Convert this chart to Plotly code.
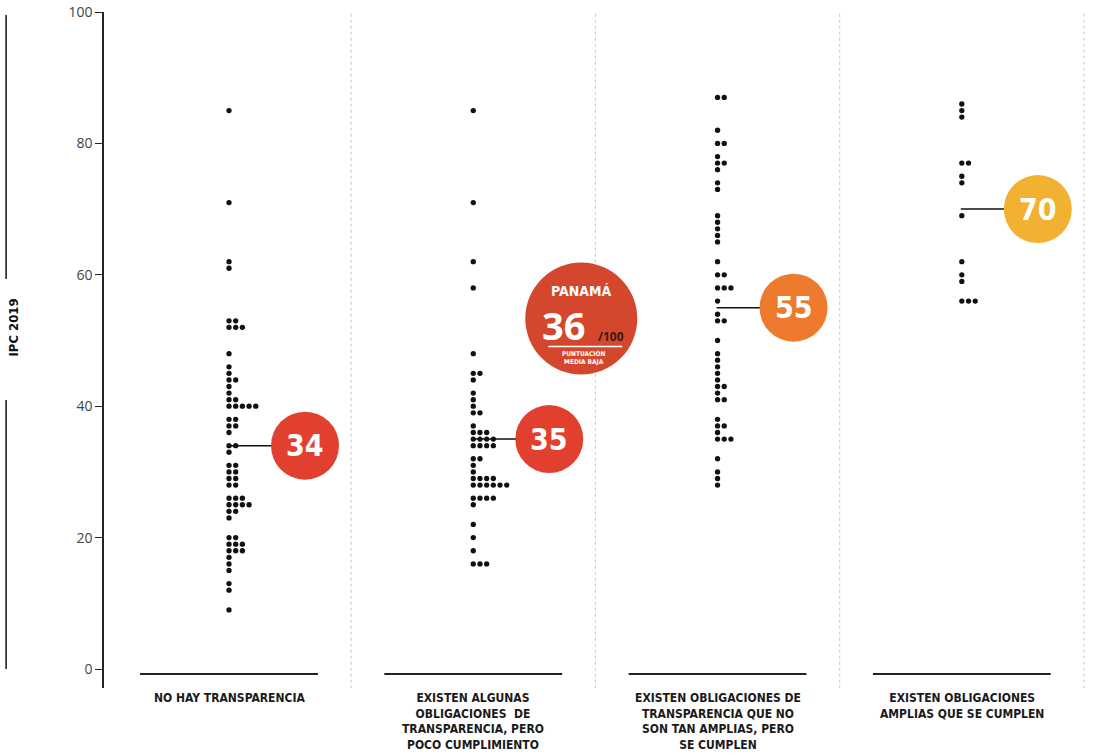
import plotly.graph_objects as go
from collections import Counter

# ---------------- data ----------------
categories = [
    "NO HAY TRANSPARENCIA",
    "EXISTEN ALGUNAS<br>OBLIGACIONES  DE<br>TRANSPARENCIA, PERO<br>POCO CUMPLIMIENTO",
    "EXISTEN OBLIGACIONES DE<br>TRANSPARENCIA QUE NO<br>SON TAN AMPLIAS, PERO<br>SE CUMPLEN",
    "EXISTEN OBLIGACIONES<br>AMPLIAS QUE SE CUMPLEN",
]

scores_no_transparencia = [
    85, 71, 62, 61, 53, 53, 52, 52, 52, 48, 46, 45, 44, 44, 43, 42, 41, 41,
    40, 40, 40, 40, 40, 38, 38, 37, 37, 36, 34, 34, 33, 31, 31, 30, 30, 29, 29,
    28, 28, 26, 26, 26, 25, 25, 25, 25, 24, 24, 23, 20, 20, 19, 19, 19, 18, 18,
    18, 17, 16, 15, 13, 12, 9,
]
scores_algunas = [
    85, 71, 62, 58, 48, 45, 45, 44, 42, 41, 40, 39, 39, 37, 36, 36, 36,
    35, 35, 35, 35, 34, 34, 34, 34, 32, 32, 31, 30, 29, 29, 29, 29,
    28, 28, 28, 28, 28, 28, 26, 26, 26, 26, 25, 22, 20, 18, 16, 16, 16,
]
scores_no_amplias = [
    87, 87, 82, 80, 80, 78, 77, 77, 76, 74, 73, 69, 68, 67, 66, 65, 62, 60, 60,
    58, 58, 58, 56, 54, 53, 53, 50, 48, 47, 46, 45, 44, 43, 43, 42, 41, 41, 38,
    37, 37, 36, 35, 35, 35, 32, 30, 29, 28,
]
scores_amplias = [86, 85, 84, 77, 77, 75, 74, 69, 62, 60, 59, 56, 56, 56]

series = [scores_no_transparencia, scores_algunas, scores_no_amplias, scores_amplias]
mean_labels = [34, 35, 55, 70]
mean_colors = ["#E2402E", "#E2402E", "#EE7A2E", "#F2B131"]

panama_label = "PANAMÁ"
panama_score = 36
panama_color = "#D4472C"

tick_values = [0, 20, 40, 60, 80, 100]
axis_title = "IPC 2019"

# ---------------- style ----------------
COND = "DejaVu Sans Condensed, Liberation Sans Narrow, Arial Narrow, sans-serif"
W, H = 1093, 754
ML, MR, MT, MB = 104, 0, 12, 66
X0, X1 = -0.5117, 3.537
Y0, Y1 = -2.89, 100
DX = 0.0274  # horizontal stacking step for equal scores

fig = go.Figure()

# dots, stacked horizontally when scores coincide
for i, vals in enumerate(series):
    xs, ys = [], []
    for s, n in sorted(Counter(vals).items()):
        for k in range(n):
            xs.append(i + k * DX)
            ys.append(s)
    fig.add_trace(go.Scatter(
        x=xs, y=ys, mode="markers",
        marker=dict(size=5.3, color="#111111", line=dict(width=0)),
        hoverinfo="y", showlegend=False, cliponaxis=False,
    ))

shapes = []
annotations = []

# vertical dotted separators
for i in range(len(categories)):
    shapes.append(dict(type="line", xref="x", yref="y", x0=i + 0.5, x1=i + 0.5,
                       y0=-3.0, y1=100.3,
                       line=dict(color="#c8c8c8", width=1, dash="dot"), layer="below"))

# baseline under each category + labels
for i, lab in enumerate(categories):
    shapes.append(dict(type="line", xref="x", yref="y", x0=i - 0.364, x1=i + 0.364,
                       y0=-0.75, y1=-0.75, line=dict(color="#222222", width=2)))
    annotations.append(dict(x=i, y=0, xref="x", yref="paper", yanchor="top",
                            xanchor="center", yshift=-1, showarrow=False, align="center",
                            text="<b>" + lab + "</b>",
                            font=dict(family=COND, size=12, color="#1a1a1a")))

# mean markers
for i, (m, c) in enumerate(zip(mean_labels, mean_colors)):
    shapes.append(dict(type="line", xref="x", yref="y", xsizemode="pixel",
                       ysizemode="pixel", xanchor=i, yanchor=m,
                       x0=-1, x1=44, y0=0, y1=0,
                       line=dict(color="#111111", width=1.5)))
    shapes.append(dict(type="circle", xref="x", yref="y", xsizemode="pixel",
                       ysizemode="pixel", xanchor=i, yanchor=m,
                       x0=76 - 34, x1=76 + 34, y0=-34, y1=34,
                       fillcolor=c, line=dict(width=0)))
    annotations.append(dict(x=i, y=m, xref="x", yref="y", xshift=76, yshift=0,
                            showarrow=False, text="<b>%d</b>" % m,
                            font=dict(family=COND, size=30, color="white")))

# Panamá callout (anchored to second category, score 36)
pa_x, pa_y = 1, panama_score
shapes.append(dict(type="circle", xref="x", yref="y", xsizemode="pixel",
                   ysizemode="pixel", xanchor=pa_x, yanchor=pa_y,
                   x0=108 - 56, x1=108 + 56, y0=114 - 56, y1=114 + 56,
                   fillcolor=panama_color, line=dict(width=0)))
shapes.append(dict(type="line", xref="x", yref="y", xsizemode="pixel",
                   ysizemode="pixel", xanchor=pa_x, yanchor=pa_y,
                   x0=75, x1=149, y0=86, y1=86,
                   line=dict(color="white", width=1.5)))
annotations += [
    dict(x=pa_x, y=pa_y, xref="x", yref="y", xshift=108, yshift=141, showarrow=False,
         text="<b>" + panama_label + "</b>", font=dict(family=COND, size=14, color="white")),
    dict(x=pa_x, y=pa_y, xref="x", yref="y", xshift=90, yshift=107, showarrow=False,
         text="<b>%d</b>" % panama_score,
         font=dict(family="Open Sans, DejaVu Sans, sans-serif", size=38, color="white")),
    dict(x=pa_x, y=pa_y, xref="x", yref="y", xshift=138, yshift=96, showarrow=False,
         text="<b>/100</b>", font=dict(family="Open Sans, DejaVu Sans, sans-serif",
                                       size=12, color="#3a1a10")),
    dict(x=pa_x, y=pa_y, xref="x", yref="y", xshift=110, yshift=75, showarrow=False,
         text="<b>PUNTUACIÓN<br>MEDIA BAJA</b>",
         font=dict(family=COND, size=6.5, color="white")),
]

# left axis title with rules
shapes.append(dict(type="line", xref="paper", yref="paper", x0=-0.099, x1=-0.099,
                   y0=0.9956, y1=0.605, line=dict(color="#111111", width=1.5)))
shapes.append(dict(type="line", xref="paper", yref="paper", x0=-0.099, x1=-0.099,
                   y0=0.426, y1=0.028, line=dict(color="#111111", width=1.5)))
annotations.append(dict(x=-0.092, y=0.5325, xref="paper", yref="paper", textangle=-90,
                        xshift=-9, showarrow=False, text="<b>" + axis_title + "</b>",
                        font=dict(family=COND, size=13, color="#111111")))

fig.update_layout(
    width=W, height=H,
    margin=dict(l=ML, r=MR, t=MT, b=MB, pad=0),
    paper_bgcolor="white", plot_bgcolor="white",
    shapes=shapes, annotations=annotations,
    xaxis=dict(range=[X0, X1], visible=False, fixedrange=True),
    yaxis=dict(range=[Y0, Y1], tickvals=tick_values, showgrid=False, zeroline=False,
               showline=True, linecolor="#222222", linewidth=1.5,
               ticks="outside", ticklen=7, tickwidth=1.2, tickcolor="#222222",
               tickfont=dict(family="Open Sans, DejaVu Sans, sans-serif", size=14,
                             color="#444444"),
               fixedrange=True),
    showlegend=False,
)

fig.write_html("out.html", config={"displayModeBar": False},
               post_script="document.body.style.margin='0';")
